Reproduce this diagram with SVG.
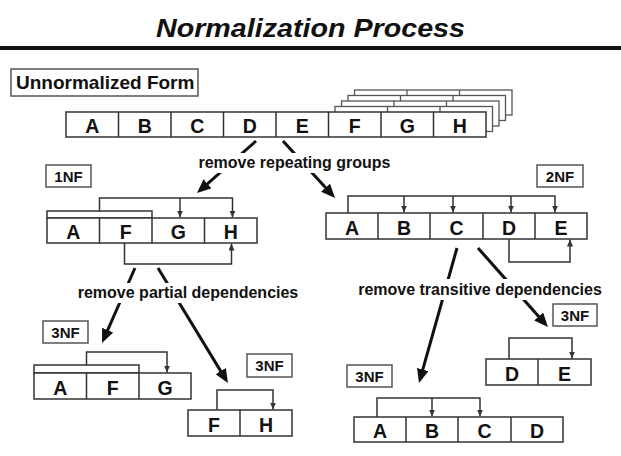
<svg xmlns="http://www.w3.org/2000/svg" width="621" height="456" viewBox="0 0 621 456">
<style>
.cell{fill:#fff;stroke:#333;stroke-width:1.5}
.back{fill:#fff;stroke:#555;stroke-width:1.3}
.lbl{fill:#fff;stroke:#555;stroke-width:1.5}
.t{font-family:"Liberation Sans",Arial,sans-serif;font-weight:bold;fill:#111}
.ct{font-size:19.5px;text-anchor:middle}
.lt{font-size:15px;text-anchor:middle}
.ann{font-size:16px;text-anchor:middle}
.br{fill:none;stroke:#333;stroke-width:1.5}
.big{fill:none;stroke:#111;stroke-width:3}
</style>
<defs>
<marker id="ah" markerUnits="userSpaceOnUse" markerWidth="15" markerHeight="12" refX="10" refY="6" orient="auto">
<path d="M0,0 L14,6 L0,12 z" fill="#111"/>
</marker>
<marker id="sa" markerUnits="userSpaceOnUse" markerWidth="8" markerHeight="7" refX="7" refY="3" orient="auto">
<path d="M0,0 L7,3 L0,6 z" fill="#333"/>
</marker>
</defs>
<rect width="621" height="456" fill="#fff"/>

<g id="title">
<text class="t" x="156" y="37" font-size="26" font-style="italic" textLength="309" lengthAdjust="spacingAndGlyphs">Normalization Process</text>
<rect x="0" y="46" width="621" height="4" fill="#111"/>
</g>

<g id="unnormalized-label">
<rect class="lbl" x="11" y="69" width="187" height="27"/>
<text class="t" x="16" y="89" font-size="19">Unnormalized Form</text>
</g>

<g id="unnormalized-table">
<rect class="back" x="354.5" y="90" width="157.5" height="25"/>
<line class="back" x1="407" y1="90" x2="407" y2="115"/><line class="back" x1="459.5" y1="90" x2="459.5" y2="115"/>
<rect class="back" x="348" y="95.5" width="157.5" height="25"/>
<line class="back" x1="400.5" y1="95.5" x2="400.5" y2="120.5"/><line class="back" x1="453" y1="95.5" x2="453" y2="120.5"/>
<rect class="back" x="341.5" y="101" width="157.5" height="25"/>
<line class="back" x1="394" y1="101" x2="394" y2="126"/><line class="back" x1="446.5" y1="101" x2="446.5" y2="126"/>
<rect class="back" x="335" y="106.5" width="157.5" height="25"/>
<line class="back" x1="387.5" y1="106.5" x2="387.5" y2="131.5"/><line class="back" x1="440" y1="106.5" x2="440" y2="131.5"/>
<rect class="cell" x="66" y="112" width="420" height="25"/>
<path class="br" d="M118.5,112V137M171,112V137M223.5,112V137M276,112V137M328.5,112V137M381,112V137M433.5,112V137"/>
<text class="t ct" y="133"><tspan x="92.25">A</tspan><tspan x="144.75">B</tspan><tspan x="197.25">C</tspan><tspan x="249.75">D</tspan><tspan x="302.25">E</tspan><tspan x="354.75">F</tspan><tspan x="407.25">G</tspan><tspan x="459.75">H</tspan></text>
</g>

<g id="nf1">
<rect class="lbl" x="46" y="165" width="45" height="22"/>
<text class="t lt" x="68.5" y="182">1NF</text>
<rect class="cell" x="47" y="211" width="105" height="7"/>
<rect class="cell" x="47" y="218" width="210" height="25"/>
<path class="br" d="M99.5,218V243M152,218V243M204.5,218V243"/>
<text class="t ct" y="239"><tspan x="73.25">A</tspan><tspan x="125.75">F</tspan><tspan x="178.25">G</tspan><tspan x="230.75">H</tspan></text>
<path class="br" d="M99.5,211V198H232.5V217.5" marker-end="url(#sa)"/>
<path class="br" d="M180,198V217.5" marker-end="url(#sa)"/>
<path class="br" d="M124.5,243V264H231.5V243.5" marker-end="url(#sa)"/>
</g>

<g id="nf2">
<rect class="lbl" x="537" y="165" width="46" height="22"/>
<text class="t lt" x="560" y="182">2NF</text>
<rect class="cell" x="326" y="213" width="261" height="26"/>
<path class="br" d="M378,213V239M430,213V239M483,213V239M535,213V239"/>
<text class="t ct" y="235"><tspan x="352">A</tspan><tspan x="404">B</tspan><tspan x="456.5">C</tspan><tspan x="509">D</tspan><tspan x="561">E</tspan></text>
<path class="br" d="M348,213V196H555V212.5" marker-end="url(#sa)"/>
<path class="br" d="M404,196V212.5" marker-end="url(#sa)"/>
<path class="br" d="M453,196V212.5" marker-end="url(#sa)"/>
<path class="br" d="M511,196V212.5" marker-end="url(#sa)"/>
<path class="br" d="M509,239V262H570V239.5" marker-end="url(#sa)"/>
</g>

<g id="nf3-afg">
<rect class="lbl" x="43" y="321" width="45" height="22"/>
<text class="t lt" x="65.5" y="338">3NF</text>
<rect class="cell" x="34" y="365" width="105" height="8"/>
<rect class="cell" x="34" y="373" width="157" height="26"/>
<path class="br" d="M86.5,373V399M139,373V399"/>
<text class="t ct" y="395"><tspan x="60.25">A</tspan><tspan x="112.75">F</tspan><tspan x="165">G</tspan></text>
<path class="br" d="M86.5,365V352H167V372.5" marker-end="url(#sa)"/>
</g>

<g id="nf3-fh">
<rect class="lbl" x="247" y="354" width="45" height="23"/>
<text class="t lt" x="269.5" y="371">3NF</text>
<rect class="cell" x="188" y="410" width="104" height="26"/>
<path class="br" d="M240,410V436"/>
<text class="t ct" y="432"><tspan x="214">F</tspan><tspan x="266">H</tspan></text>
<path class="br" d="M217,410V390H273V409.5" marker-end="url(#sa)"/>
</g>

<g id="nf3-abcd">
<rect class="lbl" x="347" y="365" width="45" height="22"/>
<text class="t lt" x="369.5" y="382">3NF</text>
<rect class="cell" x="354" y="417" width="209" height="25"/>
<path class="br" d="M406,417V442M458,417V442M511,417V442"/>
<text class="t ct" y="438"><tspan x="380">A</tspan><tspan x="432">B</tspan><tspan x="484.5">C</tspan><tspan x="537">D</tspan></text>
<path class="br" d="M377,417V398H480V416.5" marker-end="url(#sa)"/>
<path class="br" d="M432,398V416.5" marker-end="url(#sa)"/>
</g>

<g id="nf3-de">
<rect class="lbl" x="553" y="304" width="44" height="22"/>
<text class="t lt" x="575" y="321">3NF</text>
<rect class="cell" x="486" y="359" width="105" height="26"/>
<path class="br" d="M538,359V385"/>
<text class="t ct" y="381"><tspan x="512">D</tspan><tspan x="564.5">E</tspan></text>
<path class="br" d="M509,359V338H572V358.5" marker-end="url(#sa)"/>
</g>

<g id="connectors">
<line class="big" x1="256" y1="141" x2="200" y2="190.4" marker-end="url(#ah)"/>
<line class="big" x1="283" y1="141" x2="332.3" y2="195" marker-end="url(#ah)"/>
<line class="big" x1="135" y1="268" x2="103.6" y2="339.3" marker-end="url(#ah)"/>
<line class="big" x1="158" y1="268" x2="225.9" y2="379.6" marker-end="url(#ah)"/>
<line class="big" x1="457" y1="248" x2="420.1" y2="379.1" marker-end="url(#ah)"/>
<line class="big" x1="478" y1="248" x2="545.3" y2="324" marker-end="url(#ah)"/>
<rect x="194" y="153" width="201" height="20" fill="#fff"/>
<text class="t ann" x="294.5" y="168">remove repeating groups</text>
<rect x="73" y="283" width="230" height="20" fill="#fff"/>
<text class="t ann" x="188" y="298">remove partial dependencies</text>
<rect x="353" y="279" width="254" height="21" fill="#fff"/>
<text class="t ann" x="480" y="295">remove transitive dependencies</text>
</g>
</svg>
